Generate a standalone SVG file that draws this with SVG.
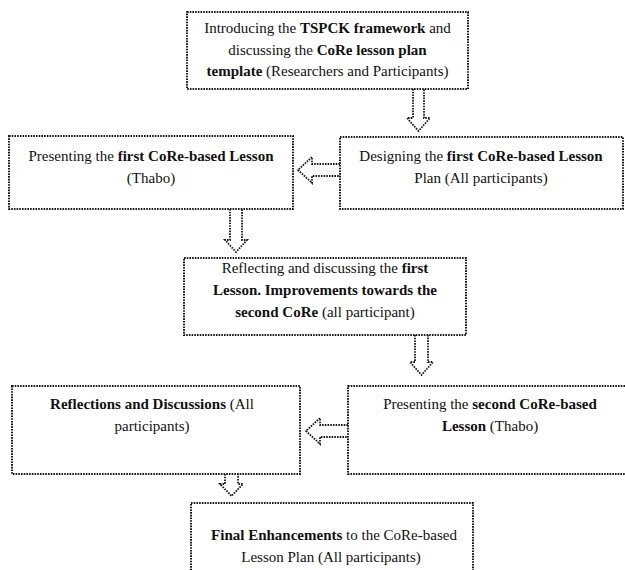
<svg xmlns="http://www.w3.org/2000/svg" width="625" height="570" viewBox="0 0 625 570">
<style>
.box{fill:#fff;stroke:#1a1a1a;stroke-width:2;stroke-dasharray:1.6 1.1;}
.arr{fill:none;stroke:#1a1a1a;stroke-width:1.8;stroke-dasharray:1.6 1.1;stroke-linejoin:miter;}
text{font-family:"Liberation Serif","Times New Roman",serif;font-size:15px;fill:#111;text-anchor:middle;}
.b{font-weight:bold;}
</style>
<rect width="625" height="570" fill="#fff"/>
<g id="connectors">
<path class="arr" d="M413,89 V118 H407 L418.5,131 L430,118 H424 V89"/>
<path class="arr" d="M340,164 H312 V157 L298,170 L312,183 V176 H340"/>
<path class="arr" d="M230,209 V240 H225 L236,252 L247,240 H242 V209"/>
<path class="arr" d="M415,335 V362 H410 L421.5,375 L433,362 H428 V335"/>
<path class="arr" d="M348,425 H320 V418 L306,431 L320,444 V437 H348"/>
<path class="arr" d="M225,474 V484 H220 L231.5,496 L243,484 H238 V474"/>
</g>
<g id="n1">
<rect class="box" x="187" y="12" width="281" height="77"/>
<text x="327.5" y="33">Introducing the <tspan class="b">TSPCK framework</tspan> and</text>
<text x="327.5" y="54.5">discussing the <tspan class="b">CoRe lesson plan</tspan></text>
<text x="327.5" y="76"><tspan class="b">template</tspan> (Researchers and Participants)</text>
</g>
<g id="n2">
<rect class="box" x="340" y="137" width="283" height="72"/>
<text x="481" y="161">Designing the <tspan class="b">first CoRe-based Lesson</tspan></text>
<text x="481" y="183">Plan (All participants)</text>
</g>
<g id="n3">
<rect class="box" x="9" y="136" width="284" height="73"/>
<text x="151" y="161">Presenting the <tspan class="b">first CoRe-based Lesson</tspan></text>
<text x="151" y="183">(Thabo)</text>
</g>
<g id="n4">
<rect class="box" x="184" y="258" width="282" height="77"/>
<text x="325" y="273">Reflecting and discussing the <tspan class="b">first</tspan></text>
<text x="325" y="295"><tspan class="b">Lesson. Improvements towards the</tspan></text>
<text x="325" y="317"><tspan class="b">second CoRe</tspan> (all participant)</text>
</g>
<g id="n5">
<rect class="box" x="12" y="386" width="288" height="88"/>
<text x="152" y="409"><tspan class="b">Reflections and Discussions</tspan> (All</text>
<text x="152" y="431">participants)</text>
</g>
<g id="n6">
<rect class="box" x="348" y="386" width="282" height="88"/>
<text x="490" y="409">Presenting the <tspan class="b">second CoRe-based</tspan></text>
<text x="490" y="431"><tspan class="b">Lesson</tspan> (Thabo)</text>
</g>
<g id="n7">
<rect class="box" x="191" y="503" width="282" height="100"/>
<text x="334" y="540"><tspan class="b">Final Enhancements</tspan> to the CoRe-based</text>
<text x="331" y="562">Lesson Plan (All participants)</text>
</g>
</svg>
